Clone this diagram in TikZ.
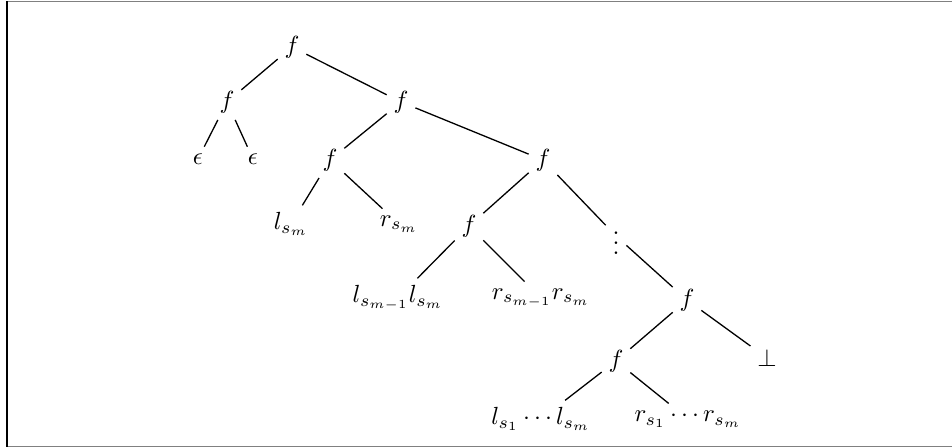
\documentclass[tikz,border=0pt]{standalone}
\begin{document}
\begin{tikzpicture}[x=0.5pt,y=-0.5pt,
  tn/.style={inner sep=2.6pt,scale=1.24},
  edge/.style={draw=black,line width=0.65pt}]
\useasboundingbox (0,0) rectangle (952,448);
% frame
\draw[gray,line width=0.8pt] (7,1.5) -- (952,1.5);
\draw[gray,line width=0.8pt] (7,446.5) -- (952,446.5);
\draw[black,line width=0.8pt] (7,1.5) -- (7,446.5);
% nodes
\node[tn] (r)   at (292,47)  {$f$};
\node[tn] (a)   at (227,102) {$f$};
\node[tn] (e1)  at (198,159) {$\epsilon$};
\node[tn] (e2)  at (253,159) {$\epsilon$};
\node[tn] (b)   at (401,102) {$f$};
\node[tn] (c)   at (330,160) {$f$};
\node[tn] (ls)  at (291,224) {$l_{s_m}$};
\node[tn] (rs)  at (399,224) {$r_{s_m}$};
\node[tn] (d)   at (543,160) {$f$};
\node[tn] (g)   at (469,226) {$f$};
\node[tn] (l2)  at (398,298) {$l_{s_{m-1}}l_{s_m}$};
\node[tn] (r2)  at (541,298) {$r_{s_{m-1}}r_{s_m}$};
\node[tn] (v)   at (616,236) {$\vdots$};
\node[tn] (h)   at (687,300) {$f$};
\node[tn] (k)   at (616,361) {$f$};
\node[tn] (bot) at (767,358) {$\bot$};
\node[tn] (l1)  at (541,419) {$l_{s_1}\cdots l_{s_m}$};
\node[tn] (r1)  at (688,419) {$r_{s_1}\cdots r_{s_m}$};
% edges
\draw[edge] (r) -- (a);
\draw[edge] (r) -- (b);
\draw[edge] (a) -- (e1);
\draw[edge] (a) -- (e2);
\draw[edge] (b) -- (c);
\draw[edge] (b) -- (d);
\draw[edge] (c) -- (ls);
\draw[edge] (c) -- (rs);
\draw[edge] (d) -- (g);
\draw[edge] (d) -- (v);
\draw[edge] (g) -- (l2);
\draw[edge] (g) -- (r2);
\draw[edge] (v) -- (h);
\draw[edge] (h) -- (k);
\draw[edge] (h) -- (bot);
\draw[edge] (k) -- (l1);
\draw[edge] (k) -- (r1);
\end{tikzpicture}
\end{document}
